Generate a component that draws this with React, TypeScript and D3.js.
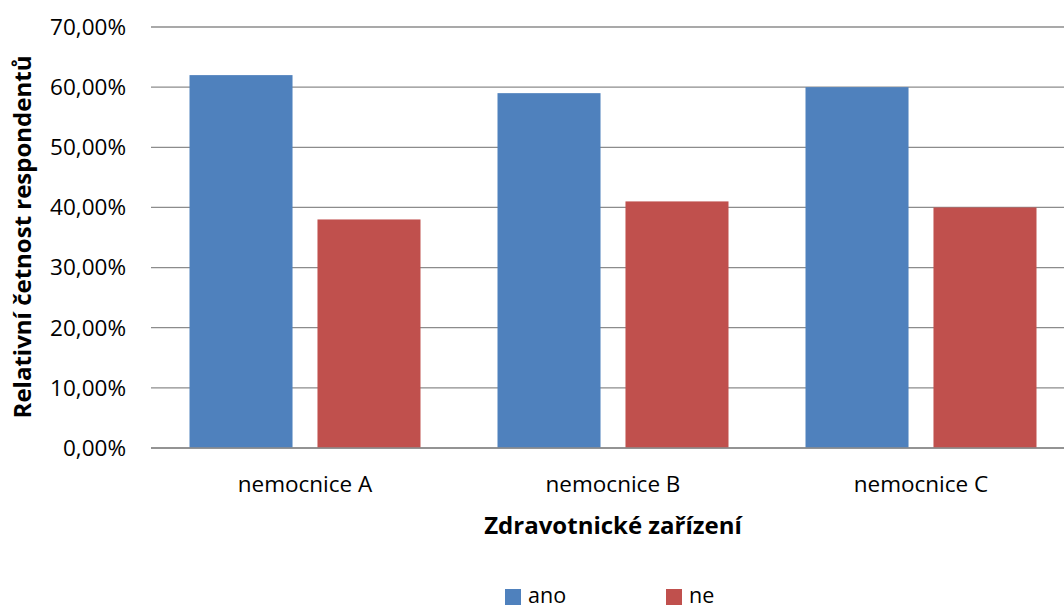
import React from "react";
import * as d3 from "d3";

const categories = ["nemocnice A", "nemocnice B", "nemocnice C"];
const seriesNames = ["ano", "ne"];
const anoValues = [62, 59, 60];
const neValues = [38, 41, 40];
const yTicks = [0, 10, 20, 30, 40, 50, 60, 70];
const colors = ["#4F81BD", "#C0504D"];

const W = 1064;
const H = 608;
const FONT = "'Open Sans', Calibri, sans-serif";

export default function App() {
  const x0 = d3.scaleBand<string>().domain(categories).range([151, 1075]).paddingInner(0).paddingOuter(0);
  const bw = x0.bandwidth();
  const outer = bw * 0.125;
  const x1 = d3.scaleBand<string>().domain(seriesNames).range([outer, bw - outer]).paddingInner(0.195);
  const y = d3.scaleLinear().domain([0, 70]).range([448, 27]);
  const fmt = (v: number) => v.toFixed(2).replace(".", ",") + "%";
  const values = [anoValues, neValues];

  return (
    <svg width={W} height={H} style={{ position: "absolute", left: 0, top: 0, background: "#fff" }} fontFamily={FONT}>
      {yTicks.map((t) => (
        <g key={t}>
          <line x1={151} x2={W} y1={y(t)} y2={y(t)} stroke="#8c8c8c" strokeWidth={1.3} />
          <text x={126} y={y(t)} dy="0.35em" textAnchor="end" fontSize={22.5} fill="#000">{fmt(t)}</text>
        </g>
      ))}
      {categories.map((c, i) => (
        <g key={c} transform={`translate(${x0(c)},0)`}>
          {seriesNames.map((s, j) => (
            <rect key={s} x={x1(s)} width={x1.bandwidth()} y={y(values[j][i])} height={y(0) - y(values[j][i])} fill={colors[j]} />
          ))}
          <text x={bw / 2} y={492} textAnchor="middle" fontSize={22.5} fill="#000">{c}</text>
        </g>
      ))}
      <line x1={151} x2={W} y1={y(0)} y2={y(0)} stroke="#8c8c8c" strokeWidth={1.5} />
      <text x={613} y={534} textAnchor="middle" fontSize={24} fontWeight="bold" fill="#000">Zdravotnické zařízení</text>
      <text transform={`translate(31,237) rotate(-90)`} textAnchor="middle" fontSize={24} fontWeight="bold" fill="#000">Relativní četnost respondentů</text>
      {seriesNames.map((s, j) => (
        <g key={s} transform={`translate(${505 + j * 161},589)`}>
          <rect x={0} y={0} width={16} height={16} fill={colors[j]} />
          <text x={23} y={14} fontSize={21.5} fill="#000">{s}</text>
        </g>
      ))}
    </svg>
  );
}
